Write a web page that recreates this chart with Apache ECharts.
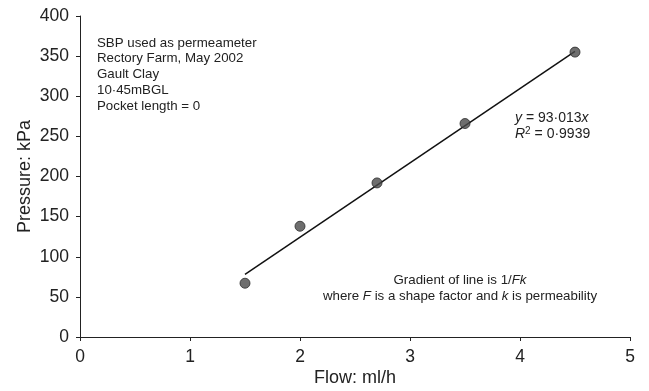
<!DOCTYPE html>
<html><head><meta charset="utf-8">
<script src="https://cdn.jsdelivr.net/npm/echarts@6/dist/echarts.min.js"></script>
<style>html,body{margin:0;padding:0;background:#fff}#c{width:649px;height:391px}</style>
</head><body><div id="c"></div>
<script>
const flow = [1.5, 2.0, 2.7, 3.5, 4.5];
const pressure = [67, 138, 192, 266, 355];
const fitX = [1.5, 4.5];
const fitY = [78, 356];
const xTicks = [0, 1, 2, 3, 4, 5];
const yTicks = [0, 50, 100, 150, 200, 250, 300, 350, 400];
const infoLines = ['SBP used as permeameter', 'Rectory Farm, May 2002', 'Gault Clay', '10·45mBGL', 'Pocket length = 0'];

const font = 'Liberation Sans, Arial, sans-serif';
const chart = echarts.init(document.getElementById('c'));
const axisCommon = {
  axisLine: {show: true, lineStyle: {color: '#222', width: 1}},
  axisTick: {show: true, length: 4, lineStyle: {color: '#222'}},
  splitLine: {show: false},
  nameMoveOverlap: false,
  nameTextStyle: {fontFamily: font, fontSize: 18, color: '#222'},
  axisLabel: {fontFamily: font, fontSize: 17.5, color: '#222'}
};
chart.setOption({
  animation: false,
  grid: {left: 80, top: 16, right: 19, bottom: 54, containLabel: false, outerBoundsMode: 'none'},
  xAxis: Object.assign({}, axisCommon, {
    type: 'value', min: xTicks[0], max: xTicks[xTicks.length - 1], interval: 1,
    name: 'Flow: ml/h', nameLocation: 'middle', nameGap: 32,
    axisLabel: Object.assign({}, axisCommon.axisLabel, {margin: 11})
  }),
  yAxis: Object.assign({}, axisCommon, {
    type: 'value', min: yTicks[0], max: yTicks[yTicks.length - 1], interval: 50,
    name: 'Pressure: kPa', nameLocation: 'middle', nameGap: 46,
    axisLabel: Object.assign({}, axisCommon.axisLabel, {margin: 11})
  }),
  series: [
    {type: 'line', data: fitX.map((x, i) => [x, fitY[i]]), symbol: 'none',
     lineStyle: {color: '#111', width: 1.5}, z: 2},
    {type: 'scatter', data: flow.map((x, i) => [x, pressure[i]]), symbolSize: 10,
     itemStyle: {color: '#4a4a4a', borderColor: '#2a2a2a', borderWidth: 1}, z: 3}
  ],
  graphic: [
    {type: 'text', left: 97, top: 35, style: {text: infoLines.join('\n'), font: '13.3px ' + font, fill: '#222', lineHeight: 15.8}},
    {type: 'text', left: 515, top: 110, style: {
      text: '{i|y} = 93·013{i|x}\n{i|R}{s|2} = 0·9939',
      font: '14px ' + font, fill: '#222', lineHeight: 16,
      rich: {i: {fontStyle: 'italic', fontFamily: font, fontSize: 14, fill: '#222'},
             s: {fontFamily: font, fontSize: 10, verticalAlign: 'top', padding: [0,0,6,0]}}
    }},
    {type: 'text', x: 460, y: 272, style: {
      text: 'Gradient of line is 1/{i|Fk}\nwhere {i|F} is a shape factor and {i|k} is permeability',
      font: '13.3px ' + font, fill: '#222', lineHeight: 16.5, align: 'center',
      rich: {i: {fontStyle: 'italic', fontFamily: font, fontSize: 13.3}}
    }}
  ]
});
</script></body></html>
